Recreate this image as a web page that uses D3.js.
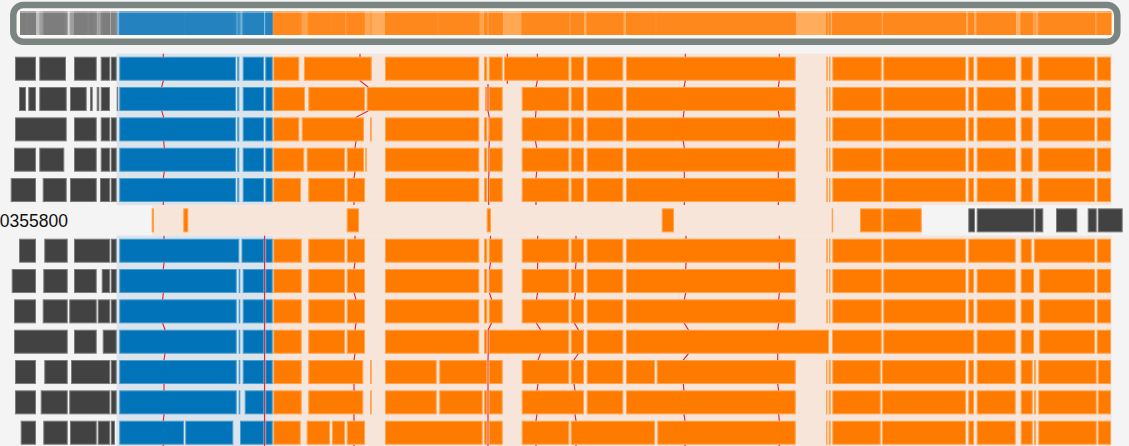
<!DOCTYPE html>
<html>
<head>
<meta charset="utf-8">
<script src="https://cdn.jsdelivr.net/npm/d3@7"></script>
<style>
  body { margin: 0; background: #f4f4f4; overflow: hidden; }
  svg { display: block; font-family: "Liberation Sans", Arial, sans-serif; }
</style>
</head>
<body>
<div id="wrapper"></div>
<script>
// Data (positions along the alignment, one entry per row)
const rowLabels = ["", "", "", "", "", "0355800", "", "", "", "", "", "", ""];
const refRow = 5;

const grayBlocks = [
    [[15, 36], [39.3, 66], [74, 96.7], [100.7, 110], [110.7, 116.7]],
    [[19, 26], [28.3, 36], [39.3, 66.7], [70, 86.7], [90, 92.7], [96.7, 99.3], [100.7, 110], [116.7, 118]],
    [[15, 66.7], [74, 96.7], [100.7, 110], [110.7, 116.7]],
    [[14, 36], [39.3, 64.3], [74, 96.7], [100.7, 110], [110.7, 116.7]],
    [[10.7, 36], [42.7, 66.7], [70, 96.7], [100, 110], [110.7, 116.7]],
    [[968.3, 975], [976.7, 1034.3], [1035, 1043.3], [1056, 1077.3], [1087.7, 1096.7], [1097.7, 1122.7]],
    [[19, 36], [44.3, 67.7], [74, 110], [110.7, 116.7]],
    [[11.7, 36], [43.3, 67.7], [74, 96.7], [101.7, 110], [110.7, 116.7]],
    [[14, 36], [42.7, 67.7], [69.3, 96.7], [97.7, 110], [110.7, 116.7]],
    [[14, 67.7], [74, 96.7], [102.7, 116.7]],
    [[15, 36], [44.3, 67.7], [71, 110], [110.7, 116.7]],
    [[15, 36], [40.7, 67.7], [69.3, 110], [110.7, 116.7]],
    [[20.7, 36], [43.3, 67.7], [70, 96.7], [97.7, 110], [110.7, 115]]
];

const blueBlocks = [
    [[119.3, 236], [237.3, 239.3], [242.7, 264], [265.3, 272.7]],
    [[119.3, 236], [237.3, 239.3], [242.7, 264], [265.3, 272.7]],
    [[119.3, 236], [237.3, 239.3], [242.7, 264], [265.3, 272.7]],
    [[119.3, 236], [237.3, 239.3], [242.7, 264], [265.3, 272.7]],
    [[119.3, 236], [237.3, 239.3], [242.7, 264], [265.3, 272.7]],
    [],
    [[119.3, 239.3], [241.5, 264], [265.3, 272.7]],
    [[119.3, 236.7], [238.7, 240.3], [242.7, 264], [265.3, 272.7]],
    [[119.3, 236.7], [238.7, 240.3], [242.7, 264], [265.3, 272.7]],
    [[119.3, 236.7], [238.7, 240.3], [242.7, 264], [265.3, 272.7]],
    [[119.3, 236.7], [238.7, 240.3], [242.7, 264], [265.3, 272.7]],
    [[119.3, 236.7], [238.7, 240.3], [244.7, 264], [265.3, 272.7]],
    [[119.3, 184], [185.3, 233.3], [240, 264], [265.3, 272.7]]
];

const orangeBlocks = [
    [[273.3, 299.3], [304, 371.7], [385, 479.3], [484, 487.3], [488.7, 502.7], [504, 569.3], [570.7, 584], [586.7, 623.3], [626, 795.7],
     [826.3, 827.7], [829, 830.3], [832.3, 881.7], [883.3, 966], [968.3, 974], [976.7, 1016], [1020.7, 1032.7], [1038.3, 1095], [1096.7, 1111]],
    [[273.3, 305], [308.3, 365], [366.7, 479.3], [485, 487.3], [488.7, 502.7], [521.7, 569.3], [570.7, 584], [586.7, 623.3], [626, 795.7],
     [826.3, 827.7], [829, 830.3], [832.3, 881.7], [883.3, 966], [968.3, 974], [976.7, 1016], [1020.7, 1032.7], [1038.3, 1095], [1096.7, 1111]],
    [[273.3, 299.3], [301.7, 364], [370, 371.7], [385, 479.3], [484, 487.3], [488.7, 502.7], [521.7, 569.3], [570.7, 584], [586.7, 623.3], [626, 795.7],
     [826.3, 827.7], [829, 830.3], [832.3, 881.7], [883.3, 966], [968.3, 974], [976.7, 1016], [1020.7, 1032.7], [1038.3, 1095], [1096.7, 1111]],
    [[273.3, 304.3], [306.7, 345], [346.7, 364], [365.3, 366.7], [385, 479.3], [484, 487.3], [488.7, 502.7], [521.7, 569.3], [570.7, 584], [586.7, 623.3], [626, 795.7],
     [826.3, 827.7], [829, 830.3], [832.3, 881.7], [883.3, 966], [968.3, 974], [976.7, 1016], [1020.7, 1032.7], [1038.3, 1095], [1096.7, 1111]],
    [[273.3, 301], [308.3, 345], [346.7, 365], [385, 479.3], [484, 487.3], [488.7, 502.7], [521.7, 569.3], [570.7, 584], [586.7, 623.3], [626, 795.7],
     [826.3, 827.7], [829, 830.3], [832.3, 881.7], [883.3, 966], [968.3, 974], [976.7, 1016], [1020.7, 1032.7], [1038.3, 1095], [1096.7, 1111]],
    [[151.7, 154], [183.3, 188.3], [346.7, 359], [486.7, 491], [661.7, 674], [831.7, 833], [860, 881.7], [882.7, 921.7]],
    [[273.3, 301.7], [308.3, 345], [346.7, 365], [385, 479.3], [484, 487.3], [488.7, 502.7], [521.7, 569.3], [570.7, 584], [586.7, 623.3], [626, 795.7],
     [826.3, 827.7], [829, 830.3], [832.3, 881.7], [883.3, 966], [968.3, 1015.7], [1020.7, 1031.7], [1034, 1095], [1096.7, 1111]],
    [[273.3, 301.7], [308.3, 345], [346.7, 365], [385, 479.3], [484, 487.3], [488.7, 502.7], [521.7, 569.3], [570.7, 584], [586.7, 623.3], [626, 795.7],
     [826.3, 827.7], [829, 830.3], [832.3, 881.7], [883.3, 966], [968.3, 974], [976.7, 1015.7], [1020.7, 1034], [1039.3, 1095], [1096.7, 1111]],
    [[273.3, 301.7], [308.3, 345], [346.7, 365], [385, 479.3], [484, 487.3], [488.7, 502.7], [521.7, 569.3], [570.7, 584], [586.7, 623.3], [626, 795.7],
     [826.3, 827.7], [829, 830.3], [832.3, 881.7], [883.3, 966], [968.3, 974], [976.7, 1015.7], [1020.7, 1034], [1039.3, 1095], [1096.7, 1111]],
    [[273.3, 301.7], [308.3, 345], [346.7, 365], [385, 479.3], [484, 487.3], [488.7, 569.3], [570.7, 584], [586.7, 623.3], [626, 829],
     [832, 881.7], [883.3, 974.3], [976.7, 1015.7], [1020.7, 1034], [1039.3, 1095], [1096.7, 1111]],
    [[273.3, 301.7], [308.3, 363.3], [370, 371.7], [385, 436.7], [439.3, 487.3], [488.7, 502.7], [521.7, 569.3], [570.7, 584], [586.7, 623.3], [626, 655], [656.7, 795.7],
     [826, 827.3], [828.7, 830.7], [832.3, 880.7], [882, 966], [968.3, 974], [976.7, 1015.7], [1020.7, 1032.7], [1034, 1036], [1038.3, 1096.7], [1097.7, 1111]],
    [[273.3, 301.7], [308.3, 363.3], [370, 371.7], [385, 436.7], [439.3, 482.7], [484, 487.3], [488.7, 502.7], [521.7, 584], [586.7, 623.3], [626, 795.7],
     [826, 827.3], [828.7, 830.7], [832.3, 880.7], [882, 966], [968.3, 974], [976.7, 1015.7], [1020.7, 1032.7], [1034, 1036], [1038.3, 1096.7], [1097.7, 1111]],
    [[273.3, 300.7], [306.7, 330], [332, 345], [346.7, 365], [385, 482.7], [484, 487.3], [488.7, 502.7], [521.7, 569.3], [570.7, 655], [657.3, 795.7],
     [826, 827.3], [828.7, 830.7], [832.3, 880.7], [882, 966], [968.3, 974], [976.7, 1015.7], [1020.7, 1032.7], [1034, 1036], [1038.3, 1096.7], [1097.7, 1111]]
];

// red variant markers, x per row (null = absent)
const markers = [
    [163.3, 161.7, 163.7, 164.3, 163.3, null, 164, 163.3, 162.7, 165, 164, 164, 163.3],
    [null, null, null, null, null, null, 264.6, 264.6, 264.6, 264.6, 264.6, 264.6, 264.6],
    [360, 368, 356, 355, 354, null, 355, 354, 356, 355, 354, 354, 354],
    [null, 488, 489.3, 489, 488.7, null, 490.5, 489.5, 491.5, 488.2, 488, 488, 488],
    [507.3, null, null, null, null, null, null, null, null, null, null, null, null],
    [537.3, 536, 535.5, 536.7, 536, null, 537.7, 537.5, 536.5, 540.5, 538, 537, 536],
    [null, null, null, null, null, null, 576, 575.5, 574.5, 578.3, 574, 575, 576],
    [685.3, 684, 683.3, 684.3, 684.3, null, 686, 685.7, 684.3, 688.3, 683.3, 684, 685],
    [779.3, 778.3, 779.3, 778.3, 778.3, null, 779.3, 779.3, 778.7, 777.7, 777.7, 778.7, 779.3]
];

// background bands: category, extent, first and last row
const bands = [
    ["blue", 116.7, 272.7, 0, 4],
    ["orange", 272.7, 1111.7, 0, 4],
    ["orange", 152, 922, 5, 5],
    ["blue", 116.7, 272.7, 6, 12],
    ["orange", 272.7, 1111.7, 6, 12]
];

// overview regions
const regions = [
    ["gray", 20, 116.7],
    ["blue", 116.7, 272.7],
    ["orange", 272.7, 1112]
];

const colors = { gray: "#424242", blue: "#0173b8", orange: "#ff7b00" };
const bandColors = { blue: "#d9e4ed", orange: "#f8e5da" };
const overviewLight = { gray: "#d6d6d6", blue: "#7dbae3", orange: "#ffb166" };
const overviewDark = { gray: "#5a5a5a", blue: "#0070b5", orange: "#ff7800" };

// Dimensions
const dimensions = { width: 1129, height: 446 };
const barH = 24;
const pad = 3.15;

const svg = d3.select("#wrapper").append("svg")
    .attr("width", dimensions.width)
    .attr("height", dimensions.height);

const x = d3.scaleLinear().domain([0, 1129]).range([0, 1129]);
const y = d3.scaleLinear().domain([0, 12]).range([56.7, 420.7]);

// Background bands
svg.append("g").selectAll("rect").data(bands).join("rect")
    .attr("x", d => x(d[1]))
    .attr("width", d => x(d[2]) - x(d[1]))
    .attr("y", d => y(d[3]) - pad)
    .attr("height", d => y(d[4]) + barH + pad - (y(d[3]) - pad) + (d[4] === 12 ? 20 : 0))
    .attr("fill", d => bandColors[d[0]]);

// Markers (under the blocks)
const markerPaths = [];
markers.forEach(m => {
    let run = [];
    const flush = () => {
        if (run.length) {
            const pts = [[run[0][1], y(run[0][0]) - 3]];
            run.forEach(([r, v]) => { pts.push([v, y(r)]); pts.push([v, y(r) + barH]); });
            const last = run[run.length - 1];
            pts.push([last[1], y(last[0]) + barH + 3]);
            markerPaths.push(pts);
        }
        run = [];
    };
    m.forEach((v, r) => { if (v == null) flush(); else run.push([r, v]); });
    flush();
});
const line = d3.line().x(d => x(d[0])).y(d => d[1]);
svg.append("g").selectAll("path").data(markerPaths).join("path")
    .attr("d", line)
    .attr("fill", "none")
    .attr("stroke", "#ea1d2c")
    .attr("stroke-width", 1.1);

// Blocks
const blocks = [];
[["gray", grayBlocks], ["blue", blueBlocks], ["orange", orangeBlocks]].forEach(([cat, list]) => {
    list.forEach((row, i) => row.forEach(b => blocks.push({ row: i, s: b[0], e: b[1], cat })));
});
svg.append("g").selectAll("rect").data(blocks).join("rect")
    .attr("x", d => x(d.s) + 0.5)
    .attr("y", d => y(d.row) + 0.5)
    .attr("width", d => Math.max(0.5, x(d.e) - x(d.s) - 1))
    .attr("height", barH - 1)
    .attr("fill", d => colors[d.cat])
    .attr("stroke", d => d3.interpolateRgb(colors[d.cat], "#ffffff")(0.3))
    .attr("stroke-width", 1);

// Row label
svg.append("g").selectAll("text").data(rowLabels.map((t, i) => ({ t, i })).filter(d => d.t)).join("text")
    .attr("x", 68)
    .attr("y", d => y(d.i) + barH / 2 + 6.5)
    .attr("text-anchor", "end")
    .attr("fill", "#111")
    .style("font-size", "17.5px")
    .text(d => d.t);

// Overview bar
const ov = svg.append("g");
ov.append("rect")
    .attr("x", 13.3).attr("y", 5)
    .attr("width", 1104).attr("height", 36.7)
    .attr("rx", 10)
    .attr("fill", "#fbf8f6");
svg.append("clipPath").attr("id", "ovclip").append("rect")
    .attr("x", x(20)).attr("y", 11).attr("width", x(1112) - x(20)).attr("height", 24);
const strip = ov.append("g").attr("clip-path", "url(#ovclip)");
strip.selectAll("rect.base").data(regions).join("rect")
    .attr("class", "base")
    .attr("x", d => x(d[1])).attr("width", d => x(d[2]) - x(d[1]))
    .attr("y", 11).attr("height", 24)
    .attr("fill", d => overviewLight[d[0]]);
strip.selectAll("rect.cov").data(blocks.filter(d => d.row !== refRow)).join("rect")
    .attr("class", "cov")
    .attr("x", d => x(d.s)).attr("width", d => x(d.e) - x(d.s))
    .attr("y", 11).attr("height", 24)
    .attr("fill", d => overviewDark[d.cat])
    .attr("fill-opacity", 0.09);
strip.append("rect")
    .attr("x", x(20)).attr("width", x(1112) - x(20))
    .attr("y", 11).attr("height", 2)
    .attr("fill", "#fff").attr("fill-opacity", 0.35);
ov.append("rect")
    .attr("x", 13.3).attr("y", 5)
    .attr("width", 1104).attr("height", 36.7)
    .attr("rx", 10)
    .attr("fill", "none")
    .attr("stroke", "#7a8581")
    .attr("stroke-width", 6.5);
</script>
</body>
</html>
